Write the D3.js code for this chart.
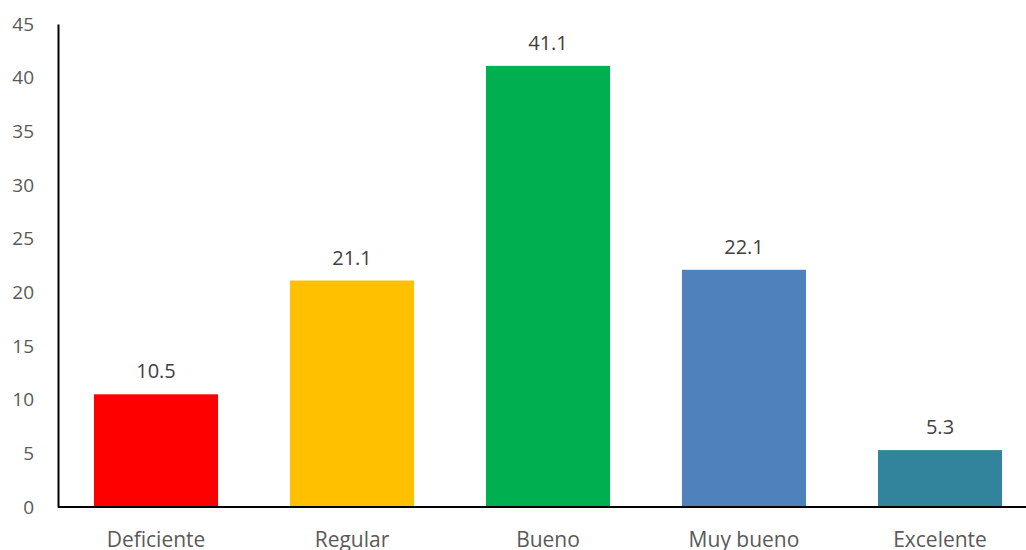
<!DOCTYPE html>
<html>
<head>
<meta charset="utf-8">
<script src="https://cdn.jsdelivr.net/npm/d3@7"></script>
<style>
  body { margin: 0; background: #fff; }
  svg text { font-family: "Open Sans", "Liberation Sans", sans-serif; }
</style>
</head>
<body>
<div id="chart"></div>
<script>
const categories = ['Deficiente', 'Regular', 'Bueno', 'Muy bueno', 'Excelente'];
const values = [10.5, 21.1, 41.1, 22.1, 5.3];
const colors = ['#ff0000', '#ffc000', '#00b050', '#4f81bd', '#31849b'];
const yTicks = [0, 5, 10, 15, 20, 25, 30, 35, 40, 45];

const width = 1026, height = 550;
const margin = {top: 24, right: 0, bottom: 43, left: 58};

let data = categories.map((c, i) => ({cat: c, val: values[i], color: colors[i]}));

let svg = d3.select('#chart')
            .append('svg')
            .attr('width', width)
            .attr('height', height);

let x = d3.scaleBand()
          .domain(categories)
          .range([margin.left, margin.left + 980])
          .paddingInner(0.367)
          .paddingOuter(0.1835);

let y = d3.scaleLinear()
          .domain([0, 45])
          .range([height - margin.bottom, margin.top]);

svg.selectAll('rect')
   .data(data)
   .enter().append('rect')
   .attr('x', d => x(d.cat))
   .attr('width', x.bandwidth())
   .attr('y', d => y(d.val))
   .attr('height', d => y(0) - y(d.val))
   .attr('fill', d => d.color);

svg.selectAll('.label')
   .data(data)
   .enter().append('text')
   .attr('class', 'label')
   .attr('x', d => x(d.cat) + x.bandwidth() / 2)
   .attr('y', d => y(d.val) - 16)
   .attr('text-anchor', 'middle')
   .attr('font-size', '20px')
   .attr('fill', '#404040')
   .text(d => d.val.toFixed(1));

// y axis
let yAxis = svg.append('g')
   .attr('transform', 'translate(' + margin.left + ',0)')
   .call(d3.axisLeft(y).tickValues(yTicks).tickSize(0).tickPadding(24));
yAxis.select('.domain').attr('stroke', '#000').attr('stroke-width', 2);
yAxis.selectAll('text').attr('font-size', '19px').attr('fill', '#595959')
   .attr('font-family', '"Open Sans", "Liberation Sans", sans-serif');

// x axis
let xAxis = svg.append('g')
   .attr('transform', 'translate(0,' + y(0) + ')')
   .call(d3.axisBottom(x).tickSize(0).tickPadding(25));
xAxis.select('.domain').attr('d', 'M' + margin.left + ',0H' + width)
   .attr('stroke', '#000').attr('stroke-width', 2);
xAxis.selectAll('text').attr('font-size', '21px').attr('fill', '#595959')
   .attr('font-family', '"Open Sans", "Liberation Sans", sans-serif');
</script>
</body>
</html>
